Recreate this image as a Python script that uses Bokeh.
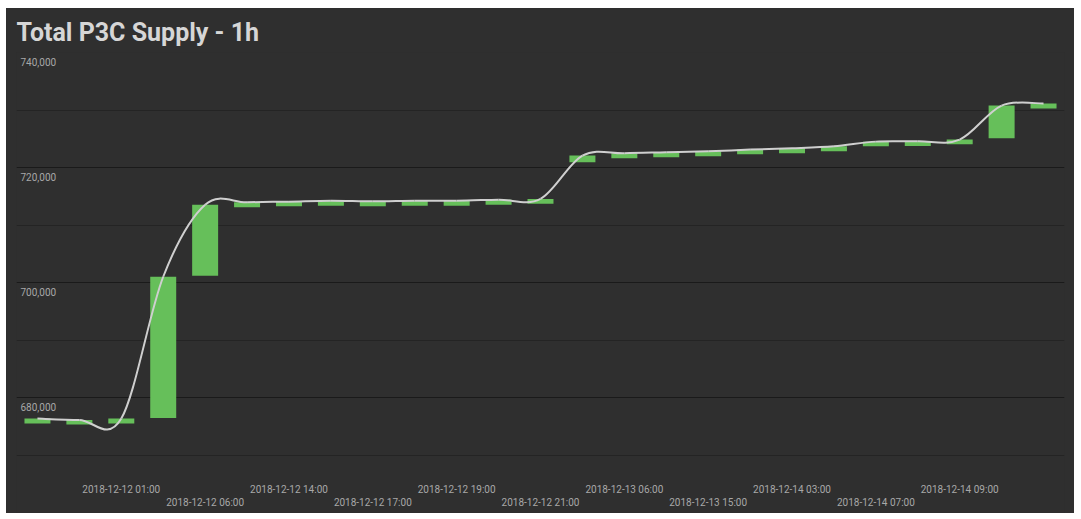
import numpy as np
from bokeh.plotting import figure
from bokeh.models import Range1d, FixedTicker, Grid, LabelSet, ColumnDataSource, Spacer
from bokeh.layouts import column, row
from bokeh.core.properties import value
from bokeh.embed import file_html
from bokeh.resources import INLINE

# ---- data ----
hours = list(range(25))
open_vals = [675460, 675290, 675460, 676450, 701180, 713070, 713240, 713360, 713240,
             713360, 713360, 713540, 713710, 720900, 721600, 721770, 721950, 722290,
             722470, 722820, 723690, 723760, 724040, 725080, 730250]
close_vals = [676330, 676100, 676330, 701000, 713540, 713940, 714060, 714230, 714110,
              714230, 714230, 714410, 714530, 722070, 722470, 722640, 722820, 723110,
              723340, 723690, 724500, 724560, 724850, 730770, 731120]
tick_index = [2, 4, 6, 8, 10, 12, 14, 16, 18, 20, 22]
tick_labels = ["2018-12-12 01:00", "2018-12-12 06:00", "2018-12-12 14:00", "2018-12-12 17:00",
               "2018-12-12 19:00", "2018-12-12 21:00", "2018-12-13 06:00", "2018-12-13 15:00",
               "2018-12-14 03:00", "2018-12-14 07:00", "2018-12-14 09:00"]
y_major = [660000, 680000, 700000, 720000, 740000]
y_minor = [670000, 690000, 710000, 730000]
y_label_values = [740000, 720000, 700000, 680000]
y_label_texts = ["740,000", "720,000", "700,000", "680,000"]

BG = "#2f2f2f"
ML, MR, MT, MB = 10, 10, 44, 1
FW, FH = 1048, 460
W, H = FW + ML + MR, FH + MT + MB

p = figure(width=W, height=H, x_range=Range1d(-0.5, 24.5), y_range=Range1d(660000, 740000),
           x_axis_location=None, y_axis_location=None, toolbar_location=None,
           output_backend="svg", min_border_left=ML, min_border_right=MR,
           min_border_top=MT, min_border_bottom=MB,
           styles={"background-color": BG})
p.background_fill_color = BG
p.border_fill_color = BG
p.outline_line_color = None
p.grid.visible = False
p.extra_x_ranges = {"px": Range1d(0, FW)}
p.extra_y_ranges = {"px": Range1d(0, FH)}

p.title.text = "Total P3C Supply - 1h"
p.title.text_font = "Roboto"
p.title.text_font_style = "bold"
p.title.text_font_size = "25px"
p.title.text_color = "#d6d6d6"
p.title.align = "left"
p.title.standoff = 11

grid = Grid(dimension=1, ticker=FixedTicker(ticks=y_major, minor_ticks=y_minor),
            grid_line_color="#1a1a1a", grid_line_width=1,
            minor_grid_line_color="#242424", minor_grid_line_width=1)
p.add_layout(grid)

# bars (open -> close)
p.vbar(x=hours, bottom=open_vals, top=close_vals, width=0.62,
       fill_color="#66bf5a", line_color=None)

# smoothed line (Catmull-Rom drawn as cubic Bezier segments through the closes)
n = len(hours)
xs = np.array(hours, dtype=float)
ys = np.array(close_vals, dtype=float)
x0, y0, x1, y1, cx0, cy0, cx1, cy1 = [], [], [], [], [], [], [], []
for i in range(n - 1):
    ip = max(i - 1, 0)
    inn = min(i + 2, n - 1)
    x0.append(xs[i]); y0.append(ys[i]); x1.append(xs[i + 1]); y1.append(ys[i + 1])
    cx0.append(xs[i] + (xs[i + 1] - xs[ip]) / 6)
    cy0.append(ys[i] + (ys[i + 1] - ys[ip]) / 6)
    cx1.append(xs[i + 1] - (xs[inn] - xs[i]) / 6)
    cy1.append(ys[i + 1] - (ys[inn] - ys[i]) / 6)
p.bezier(x0=x0, y0=y0, x1=x1, y1=y1, cx0=cx0, cy0=cy0, cx1=cx1, cy1=cy1,
         line_color="#cfcfcf", line_width=2)

# y labels inside plot
ysrc = ColumnDataSource(dict(x=[4] * len(y_label_values), y=y_label_values, t=y_label_texts))
p.add_layout(LabelSet(x="x", y="y", text="t", source=ysrc, x_range_name="px",
                      y_offset=-9, text_align="left", text_baseline="middle",
                      text_font=value("Roboto"), text_font_size=value("10px"),
                      text_color="#a8a8a8"))

# x labels (staggered in two rows)
rows = [23.5 if k % 2 == 0 else 10.5 for k in range(len(tick_index))]
xsrc = ColumnDataSource(dict(x=tick_index, y=rows, t=tick_labels))
p.add_layout(LabelSet(x="x", y="y", text="t", source=xsrc, y_range_name="px",
                      text_align="center", text_baseline="middle",
                      text_font=value("Roboto"), text_font_size=value("10px"),
                      text_color="#a8a8a8"))

layout = column(Spacer(width=W, height=8), row(Spacer(width=6, height=H), p))
open("out.html", "w").write(file_html(layout, INLINE))
